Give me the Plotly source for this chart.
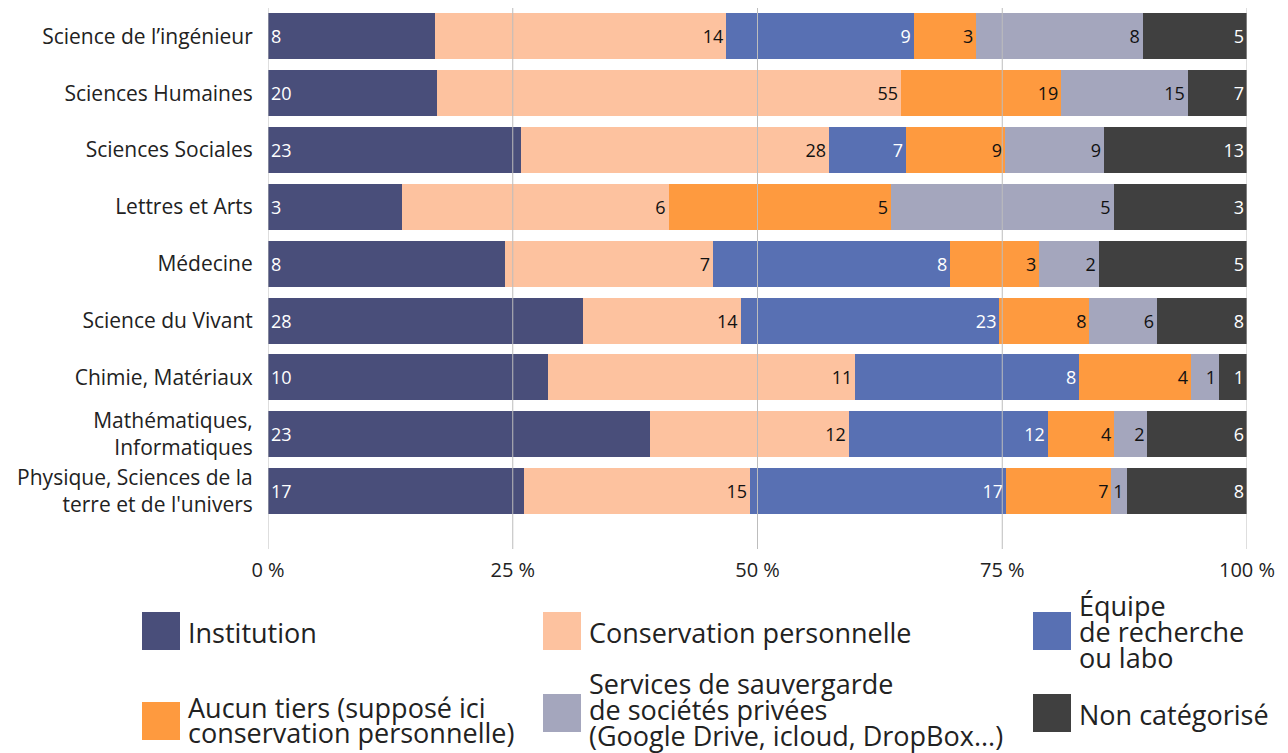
import plotly.graph_objects as go

# categories, top to bottom
disciplines = [
    "Science de l’ingénieur",
    "Sciences Humaines",
    "Sciences Sociales",
    "Lettres et Arts",
    "Médecine",
    "Science du Vivant",
    "Chimie, Matériaux",
    "Mathématiques,<br>Informatiques",
    "Physique, Sciences de la<br>terre et de l'univers",
]

institution = [8, 20, 23, 3, 8, 28, 10, 23, 17]
conservation = [14, 55, 28, 6, 7, 14, 11, 12, 15]
equipe = [9, 0, 7, 0, 8, 23, 8, 12, 17]
aucun_tiers = [3, 19, 9, 5, 3, 8, 4, 4, 7]
services_prives = [8, 15, 9, 5, 2, 6, 1, 2, 1]
non_categorise = [5, 7, 13, 3, 5, 8, 1, 6, 8]

x_ticks = [0, 25, 50, 75, 100]
x_ticklabels = ["0 %", "25 %", "50 %", "75 %", "100 %"]

series = [
    (["Institution"], institution, "#494e7a", "white", "start"),
    (["Conservation personnelle"], conservation, "#fdc29f", "#111111", "end"),
    (["Équipe", "de recherche", "ou labo"], equipe, "#5870b3", "white", "end"),
    (["Aucun tiers (supposé ici", "conservation personnelle)"], aucun_tiers, "#fe9a3f", "#111111", "end"),
    (["Services de sauvergarde", "de sociétés privées", "(Google Drive, icloud, DropBox...)"],
     services_prives, "#a4a6bd", "#111111", "end"),
    (["Non catégorisé"], non_categorise, "#404040", "white", "end"),
]

totals = [sum(s[1][i] for s in series) for i in range(len(disciplines))]

FONT = "'Open Sans', 'Noto Sans', sans-serif"

fig = go.Figure()
for name, vals, color, tcolor, anchor in series:
    pct = [v / t * 100 for v, t in zip(vals, totals)]
    fig.add_trace(go.Bar(
        y=disciplines,
        x=pct,
        orientation="h",
        name=" ".join(name),
        marker=dict(color=color, line=dict(width=0)),
        text=[str(v) if v else "" for v in vals],
        textposition="inside",
        insidetextanchor=anchor,
        textfont=dict(color=tcolor, size=18, family=FONT),
        showlegend=False,
    ))

# page has an 8px body margin, so the figure is 8px smaller than the window
fig.update_layout(
    barmode="stack",
    bargap=0.19,
    width=1280,
    height=745,
    margin=dict(l=260, r=41, t=0, b=204, autoexpand=False),
    plot_bgcolor="white",
    paper_bgcolor="white",
    font=dict(family=FONT, color="#222222"),
    uniformtext=dict(minsize=18, mode="show"),
)

fig.update_xaxes(
    range=[0, 100],
    tickvals=x_ticks,
    ticktext=x_ticklabels,
    showgrid=False,
    zeroline=False,
    tickfont=dict(size=20, color="#222222"),
    ticks="outside",
    ticklen=3,
    tickcolor="rgba(0,0,0,0)",
)
fig.update_yaxes(
    categoryorder="array",
    categoryarray=disciplines,
    range=[9.02, -0.5],
    showgrid=False,
    zeroline=False,
    automargin=False,
    tickfont=dict(size=21, color="#222222"),
    ticks="outside",
    ticklen=10,
    tickcolor="rgba(0,0,0,0)",
)

# gridlines drawn over the bars
for gx in x_ticks:
    fig.add_shape(type="line", xref="x", yref="paper", x0=gx, x1=gx, y0=0, y1=1,
                  line=dict(color="#bdbdbd", width=1), layer="above")

# custom legend (page pixel positions converted to paper coords)
def px_x(p):
    return (p - 268) / 979

def px_y(p):
    return (549 - p) / 541

LINE_H = 26
legend_items = [
    (0, 142, 631, 632),
    (1, 543, 631, 632),
    (2, 1033, 631, 631),
    (3, 142, 721, 720),
    (4, 543, 713, 709),
    (5, 1033, 713, 714),
]
for idx, lx, sq_cy, txt_cy in legend_items:
    lines, _, color, _, _ = series[idx]
    fig.add_shape(type="rect", xref="paper", yref="paper",
                  x0=px_x(lx), x1=px_x(lx + 38), y0=px_y(sq_cy + 19), y1=px_y(sq_cy - 19),
                  fillcolor=color, line=dict(width=0))
    first = txt_cy - LINE_H * (len(lines) - 1) / 2
    for k, line in enumerate(lines):
        fig.add_annotation(xref="paper", yref="paper", x=px_x(lx + 44), y=px_y(first + k * LINE_H),
                           xanchor="left", yanchor="middle", align="left",
                           text=line, showarrow=False,
                           font=dict(size=27, color="#222222", family=FONT))

fig.write_html("out.html")
